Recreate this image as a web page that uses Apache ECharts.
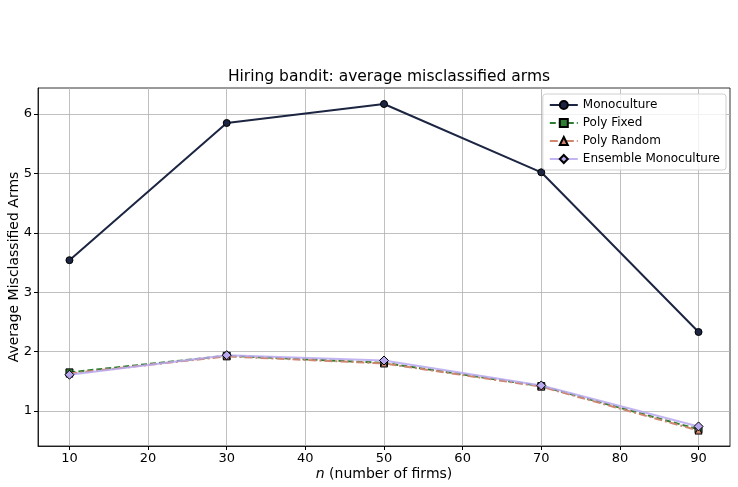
<!DOCTYPE html>
<html>
<head>
<meta charset="utf-8">
<script src="https://cdn.jsdelivr.net/npm/echarts@6/dist/echarts.min.js"></script>
<style>
  html, body { margin: 0; padding: 0; background: #fff; }
  #main { width: 738px; height: 487px; }
</style>
</head>
<body>
<div id="main"></div>
<script>
// data
var firms = [10, 30, 50, 70, 90];
var monoculture = [3.54, 5.85, 6.17, 5.02, 2.33];
var polyFixed = [1.65, 1.93, 1.81, 1.42, 0.69];
var polyRandom = [1.63, 1.92, 1.80, 1.41, 0.67];
var ensembleMono = [1.61, 1.94, 1.85, 1.43, 0.74];
var xTicks = [10, 20, 30, 40, 50, 60, 70, 80, 90];
var yTicks = [1, 2, 3, 4, 5, 6];

function pairs(ys) {
  return firms.map(function (x, i) { return [x, ys[i]]; });
}

var font = 'DejaVu Sans';
var chart = echarts.init(document.getElementById('main'));

var option = {
  animation: false,
  textStyle: { fontFamily: font },
  title: {
    text: 'Hiring bandit: average misclassified arms',
    left: 384, top: 64, textAlign: 'center',
    textStyle: { fontFamily: font, fontSize: 15.5, fontWeight: 'normal', color: '#000' }
  },
  grid: {
    left: 38, right: 8, top: 88, bottom: 41,
    containLabel: false, outerBoundsMode: 'none',
    show: true, borderColor: '#000', borderWidth: 0.8
  },
  legend: {
    orient: 'vertical', right: 12, top: 94,
    itemWidth: 28, itemHeight: 10, itemGap: 6,
    padding: [5, 6, 5, 6],
    backgroundColor: 'rgba(255,255,255,0.8)',
    borderColor: '#d0d0d0', borderWidth: 1, borderRadius: 3,
    textStyle: { fontFamily: font, fontSize: 12, color: '#000' },
    data: ['Monoculture', 'Poly Fixed', 'Poly Random', 'Ensemble Monoculture']
  },
  xAxis: {
    type: 'value', min: 6, max: 94,
    name: '{i|n} (number of firms)', nameLocation: 'middle', nameGap: 21,
    nameMoveOverlap: false,
    nameTextStyle: {
      fontFamily: font, fontSize: 14, color: '#000',
      rich: { i: { fontStyle: 'italic', fontFamily: font, fontSize: 14, color: '#000' } }
    },
    axisLine: { lineStyle: { color: '#000', width: 0.8 } },
    axisTick: { customValues: xTicks, length: 4, lineStyle: { color: '#000' } },
    axisLabel: { customValues: xTicks, fontFamily: font, fontSize: 13, color: '#000', margin: 6 },
    splitLine: { show: true, lineStyle: { color: '#b0b0b0', width: 0.8 } }
  },
  yAxis: {
    type: 'value', min: 0.41, max: 6.44,
    name: 'Average Misclassified Arms', nameLocation: 'middle', nameGap: 17,
    nameMoveOverlap: false,
    nameTextStyle: { fontFamily: font, fontSize: 14, color: '#000' },
    axisLine: { show: true, lineStyle: { color: '#000', width: 0.8 } },
    axisTick: { show: true, customValues: yTicks, length: 4, lineStyle: { color: '#000' } },
    axisLabel: { customValues: yTicks, fontFamily: font, fontSize: 13, color: '#000', margin: 6 },
    splitLine: { show: true, lineStyle: { color: '#b0b0b0', width: 0.8 } }
  },
  series: [
    {
      name: 'Monoculture', type: 'line', data: pairs(monoculture),
      symbol: 'circle', symbolSize: 7,
      lineStyle: { color: '#1c2541', width: 2 },
      itemStyle: { color: '#1c2541', borderColor: '#000', borderWidth: 1 },
      z: 2
    },
    {
      name: 'Poly Fixed', type: 'line', data: pairs(polyFixed),
      symbol: 'rect', symbolSize: 7,
      lineStyle: { color: '#2e7d32', width: 2, type: [6, 3] },
      itemStyle: { color: '#2e7d32', borderColor: '#000', borderWidth: 1 },
      z: 3
    },
    {
      name: 'Poly Random', type: 'line', data: pairs(polyRandom),
      symbol: 'triangle', symbolSize: 7,
      lineStyle: { color: '#d08770', width: 2, type: [8, 3, 2, 3] },
      itemStyle: { color: '#d08770', borderColor: '#000', borderWidth: 1 },
      z: 4
    },
    {
      name: 'Ensemble Monoculture', type: 'line', data: pairs(ensembleMono),
      symbol: 'diamond', symbolSize: 9,
      lineStyle: { color: '#b9a8ee', width: 2, opacity: 0.85 },
      itemStyle: { color: '#b9a8ee', borderColor: '#000', borderWidth: 1 },
      z: 5
    }
  ]
};

chart.setOption(option);
</script>
</body>
</html>
